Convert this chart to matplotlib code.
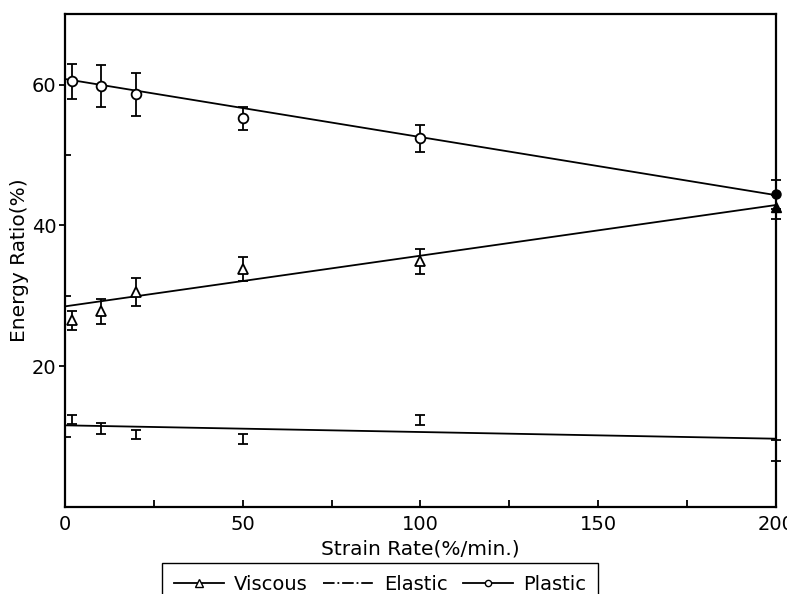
import matplotlib.pyplot as plt
from matplotlib.lines import Line2D

# strain rate (%/min.)
rate = [2, 10, 20, 50, 100, 200]

# measured energy ratios (%) with error half-widths
plastic = [60.5, 59.8, 58.6, 55.2, 52.4, 44.4]
plastic_err = [2.5, 3.0, 3.0, 1.6, 1.9, 2.0]
viscous = [26.5, 27.8, 30.6, 33.8, 34.9, 42.6]
viscous_err = [1.3, 1.8, 2.0, 1.7, 1.8, 1.7]
elastic = [12.4, 11.2, 10.3, 9.7, 12.4, 8.0]
elastic_err = [0.6, 0.8, 0.7, 0.7, 0.7, 1.5]

# fitted straight lines (values at x = 0 and x = 200)
fit_x = [0, 200]
plastic_fit = [60.8, 44.3]
viscous_fit = [28.5, 42.9]
elastic_fit = [11.6, 9.7]

fig = plt.figure(figsize=(7.87, 5.94), dpi=100)
ax = fig.add_axes([0.0826, 0.1465, 0.9034, 0.8295])

#fitted lines
for fit in (plastic_fit, viscous_fit, elastic_fit):
    ax.plot(fit_x, fit, color='black', lw=1.3, clip_on=False)

#error bars
eb = dict(fmt='none', ecolor='black', elinewidth=1.3, capsize=3.5, capthick=1.3, clip_on=False)
ax.errorbar(rate, plastic, yerr=plastic_err, **eb)
ax.errorbar(rate, viscous, yerr=viscous_err, **eb)
ax.errorbar(rate, elastic, yerr=elastic_err, **eb)

#markers, open except the last point
ax.plot(rate[:-1], plastic[:-1], 'o', ms=7, mfc='white', mec='black', mew=1.3, zorder=5)
ax.plot(rate[:-1], viscous[:-1], '^', ms=7.5, mfc='white', mec='black', mew=1.3, zorder=5)
ax.plot(rate[-1:], plastic[-1:], 'o', ms=6.5, color='black', clip_on=False, zorder=5)
ax.plot(rate[-1:], viscous[-1:], '^', ms=7.5, color='black', clip_on=False, zorder=5)

#axes and ticks
ax.set_xlim(0, 200)
ax.set_ylim(0, 70)
ax.set_xticks([0, 50, 100, 150, 200])
ax.set_xticks([25, 75, 125, 175], minor=True)
ax.set_yticks([20, 40, 60])
ax.set_yticks([10, 30, 50], minor=True)
ax.tick_params(axis='x', which='both', direction='in', length=5, width=1.3, labelsize=14, pad=6)
ax.tick_params(axis='y', which='major', direction='out', length=4, width=1.3, labelsize=14, pad=2)
ax.tick_params(axis='y', which='minor', direction='in', length=4, width=1.3)
for s in ax.spines.values():
    s.set_linewidth(1.6)

ax.set_xlabel('Strain Rate(%/min.)', fontsize=14.5, labelpad=4)
ax.set_ylabel('Energy Ratio(%)', fontsize=14.5, labelpad=2)

#legend below the axes
handles = [
    Line2D([], [], color='black', lw=1.3, marker='^', ms=6, mfc='white', mec='black'),
    Line2D([], [], color='black', lw=1.3, ls='-.'),
    Line2D([], [], color='black', lw=1.3, marker='o', ms=4.5, mfc='white', mec='black'),
]
fig.legend(handles, ['Viscous', 'Elastic', 'Plastic'], loc='upper center',
           bbox_to_anchor=(380 / 787, 1 - 563 / 594), borderaxespad=0, ncol=3, fontsize=14,
           frameon=True, fancybox=False, edgecolor='black', framealpha=1,
           handlelength=2.6, handletextpad=0.5, columnspacing=0.8, borderpad=0.6)

fig.savefig('out.png', dpi=100)
